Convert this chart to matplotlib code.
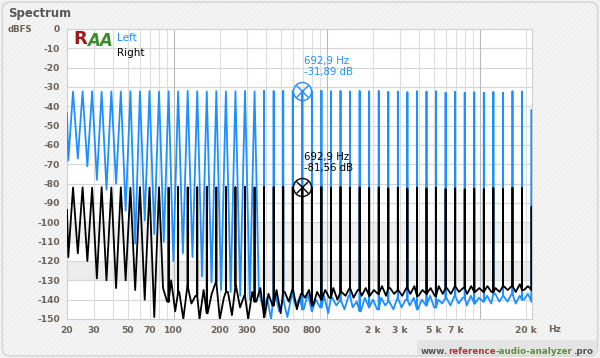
import numpy as np
import matplotlib
matplotlib.use('Agg')
import matplotlib.pyplot as plt
from matplotlib.patches import FancyBboxPatch, Rectangle

# частоты тонов мультитона (Гц), уровни пиков (дБFS)
tone_freq = [21.9, 25.3, 29.2, 33.7, 39.0, 45.0, 52.0, 60.0, 69.3, 80.0,
             92.4, 106.7, 123.2, 142.3, 164.3, 189.7, 219.1, 253.0, 292.2, 337.4,
             389.6, 450.0, 519.6, 600.0, 692.9, 800.1, 924.0, 1067, 1232, 1423,
             1643, 1897, 2191, 2530, 2922, 3374, 3896, 4499, 5196, 6000,
             6929, 8001, 9240, 10670, 12322, 14229, 16431, 18975, 21912]

left_peak = [-32.4, -32.3, -32.2, -32.5, -32.3, -32.4, -32.2, -32.3, -32.1, -32.4,
             -32.2, -32.3, -32.0, -32.2, -32.4, -32.1, -32.3, -32.2, -32.0, -32.3,
             -32.1, -32.2, -32.0, -32.1, -31.89, -32.2, -32.0, -32.3, -32.1, -32.4,
             -32.2, -32.3, -32.1, -32.6, -32.4, -32.8, -32.3, -32.4, -32.3, -33.0,
             -32.6, -33.1, -32.8, -33.0, -32.7, -33.0, -32.3, -32.4, -41.9]

right_peak = [-82.0, -81.9, -82.1, -81.8, -82.0, -81.9, -82.1, -81.8, -82.0, -81.9,
              -82.1, -81.8, -82.0, -81.9, -81.7, -82.0, -81.8, -81.9, -81.7, -82.0,
              -81.8, -81.9, -81.7, -81.8, -81.56, -82.0, -81.8, -82.1, -81.9, -82.2,
              -82.0, -82.3, -82.0, -82.5, -82.2, -82.6, -82.1, -82.4, -82.2, -82.9,
              -82.5, -83.0, -82.6, -82.9, -82.4, -82.8, -82.2, -82.4, -91.9]

# уровни провалов между широкими пиками (низкие частоты)
left_start = -43.6
left_dip = [-68, -67, -71, -78, -83, -80, -94, -111, -99, -106,
            -110, -120, -116, -118, -128, -131, -135, -136, -138, -140]
right_start = -93.6
right_dip = [-118, -116, -120, -129, -130, -134, -130, -135, -140, -149]
first_dip_freq = 20.4

# шумовая полка
right_noise_from = 85.0
right_noise = [-134, -141, -130, -146, -136, -150, -133, -142, -138, -150,
               -135, -147, -137, -131, -150, -139, -136, -148, -133, -144,
               -138, -150, -136, -141, -134, -149, -137, -143, -135, -147,
               -136, -141, -134, -145, -137, -139, -135, -143, -136, -140,
               -135, -139, -134, -140, -136, -138, -134, -139, -135, -138,
               -134, -138, -135, -137, -133, -138, -134, -137, -135, -138,
               -134, -137, -133, -138, -135, -137, -134, -138, -133, -137,
               -134, -137, -133, -136, -134, -137, -133, -136, -134, -136,
               -133, -136, -134, -136, -133, -135, -133, -136, -132, -135,
               -133, -135]
left_noise_from = 360.0
left_noise = [-136, -144, -139, -150, -137, -146, -140, -149, -138, -143,
              -139, -145, -137, -146, -140, -144, -138, -147, -139, -143,
              -140, -145, -138, -144, -141, -146, -139, -144, -140, -145,
              -139, -143, -141, -145, -139, -144, -140, -143, -139, -145,
              -140, -143, -138, -144, -140, -142, -139, -143, -138, -142,
              -139, -143, -138, -142, -139, -141, -138, -142, -137, -141,
              -138, -141, -137, -142, -138, -140, -137, -141]

x_ticks = [20, 30, 50, 70, 100, 200, 300, 500, 800, 2000, 3000, 5000, 7000, 20000]
x_labels = ['20', '30', '50', '70', '100', '200', '300', '500', '800',
            '2 k', '3 k', '5 k', '7 k', '20 k']
marker_idx = 24

F_MAX = 22050
BLUE = '#1e8fff'
TXT = '#6b6259'


def build_line(start, dips, peaks, noise_from, noise):
    xs, ys = [20.0], [start]
    for k in range(len(dips)):
        dx = first_dip_freq if k == 0 else np.sqrt(tone_freq[k - 1] * tone_freq[k])
        xs += [dx, tone_freq[k]]
        ys += [dips[k], peaks[k]]
    nf = np.geomspace(noise_from, F_MAX, len(noise))
    pts = list(zip(nf, noise))
    for k in range(len(dips), len(tone_freq)):
        f = tone_freq[k]
        j = int(np.argmin(np.abs(np.log(nf) - np.log(f))))
        pts += [(f, noise[j]), (f, peaks[k]), (f, noise[j])]
    pts.sort(key=lambda p: p[0])
    xs += [p[0] for p in pts]
    ys += [p[1] for p in pts]
    return xs, ys


plt.rcParams['hatch.linewidth'] = 0.6

fig = plt.figure(figsize=(6, 3.58), dpi=100)
fig.patch.set_facecolor('#f4f4f4')
fig.patches.append(Rectangle((0, 0), 1, 1, transform=fig.transFigure, facecolor='none',
                             edgecolor='#eaeaea', hatch='//////', linewidth=0, zorder=-10))
fig.patches.append(FancyBboxPatch((0.004, 0.006), 0.992, 0.988, transform=fig.transFigure,
                                  boxstyle='round,pad=0,rounding_size=0.012',
                                  mutation_aspect=600 / 358, fill=False,
                                  edgecolor='#d2d2d2', linewidth=1))
fig.patches.append(Rectangle((417 / 600, 0.008), 0.3, 15 / 358, transform=fig.transFigure,
                             facecolor='#e4e4e4', edgecolor='none'))

ax = fig.add_axes([67 / 600, 39 / 358, 465 / 600, 290 / 358])
ax.set_facecolor('white')
ax.set_xscale('log')
ax.set_xlim(20, F_MAX)
ax.set_ylim(-150, 0)

# серые полосы
ax.axhspan(-110, -100, color='#f0f0f0', zorder=0, lw=0)
ax.axhspan(-130, -120, color='#ececec', zorder=0, lw=0)

# сетка
for y in range(-140, 0, 10):
    ax.axhline(y, color='#d6d6d6', lw=0.8, zorder=1)
for dec in [10, 100, 1000, 10000]:
    for m in range(1, 10):
        f = dec * m
        if 20 < f < F_MAX:
            ax.axvline(f, color='#b8b8b8' if m == 1 else '#dcdcdc', lw=0.8, zorder=1)

lx, ly = build_line(left_start, left_dip, left_peak, left_noise_from, left_noise)
rx, ry = build_line(right_start, right_dip, right_peak, right_noise_from, right_noise)
ax.plot(lx, ly, color=BLUE, lw=1.3, zorder=3)
ax.plot(rx, ry, color='black', lw=1.3, zorder=4)

# маркеры
for peaks, col in [(left_peak, BLUE), (right_peak, 'black')]:
    f, v = tone_freq[marker_idx], peaks[marker_idx]
    ax.plot(f, v, 'o', ms=13, mfc='none', mec=col, mew=1.0, zorder=6)
    ax.plot(f, v, 'x', ms=9, mec=col, mew=1.0, zorder=6)
    ax.annotate(f'{f:.1f} Hz\n{v:.2f} dB'.replace('.', ','), (f, v),
                xytext=(1, 10), textcoords='offset points', ha='left', va='bottom',
                color=col, fontsize=7.3, linespacing=1.15, zorder=7)

for s in ax.spines.values():
    s.set_color('#cfcfcf')
    s.set_linewidth(0.8)

ax.set_yticks(range(-150, 1, 10))
ax.set_yticklabels([str(v) for v in range(-150, 1, 10)])
ax.set_xticks(x_ticks)
ax.set_xticklabels(x_labels)
ax.xaxis.set_minor_locator(matplotlib.ticker.NullLocator())
ax.tick_params(length=0, labelsize=6.6, labelcolor=TXT, pad=5)
for lab in ax.get_xticklabels() + ax.get_yticklabels():
    lab.set_fontweight('bold')

fig.text(8 / 600, 1 - 13 / 358, 'Spectrum', fontsize=8.4, fontweight='bold',
         color='#555555', va='center')
fig.text(8 / 600, 1 - 29 / 358, 'dBFS', fontsize=6.2, fontweight='bold',
         color=TXT, va='center')
fig.text(548 / 600, 1 - 330 / 358, 'Hz', fontsize=6.6, fontweight='bold',
         color=TXT, va='center')

# логотип и подписи каналов
fig.canvas.draw()
r = fig.canvas.get_renderer()
t = fig.text(73 / 600, 1 - 39 / 358, 'R', fontsize=13, fontweight='bold',
             color='#9c1c1c', va='center')
ex = t.get_window_extent(r)
fig.text(ex.x1 / 600, 1 - 41 / 358, 'AA', fontsize=12, fontweight='bold',
         color='#3a8c2a', va='center', style='italic')
fig.text(117 / 600, 1 - 38 / 358, 'Left', fontsize=7.5, color=BLUE, va='center')
fig.text(117 / 600, 1 - 53 / 358, 'Right', fontsize=7.5, color='black', va='center')

# подпись сайта
x = 421
for part, col in [('www.', '#555555'), ('reference', '#a83a3a'),
                  ('-audio-analyzer', '#5e8c45'), ('.pro', '#555555')]:
    t = fig.text(x / 600, 1 - 351 / 358, part, fontsize=6.3, fontweight='bold',
                 color=col, va='center')
    x = t.get_window_extent(r).x1

fig.savefig('out.png', dpi=100, facecolor=fig.get_facecolor())
